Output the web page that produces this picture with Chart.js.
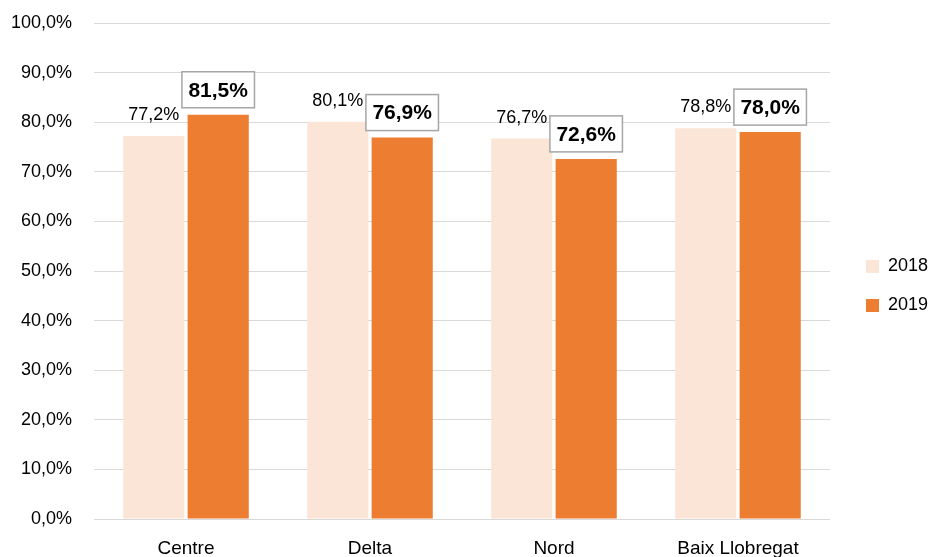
<!DOCTYPE html>
<html>
<head>
<meta charset="utf-8">
<script src="https://cdn.jsdelivr.net/npm/chart.js@4.4.1/dist/chart.umd.min.js"></script>
<style>
  html, body { margin: 0; padding: 0; background: #ffffff; }
  #wrap { width: 930px; height: 557px; }
</style>
</head>
<body>
<div id="wrap"><canvas id="c" width="930" height="557"></canvas></div>
<script>
const categories = ['Centre', 'Delta', 'Nord', 'Baix Llobregat'];
const seriesNames = ['2018', '2019'];
const values2018 = [77.2, 80.1, 76.7, 78.8];
const values2019 = [81.5, 76.9, 72.6, 78.0];
const yMin = 0, yMax = 100, yStep = 10;

const FONT = "'Liberation Sans', Arial, sans-serif";
const fmt = v => v.toFixed(1).replace('.', ',') + '%';

const labelPlugin = {
  id: 'barLabels',
  afterLayout(chart) {
    const lg = chart.legend;
    if (lg) {
      const dx = 866 - (lg.left + lg.options.labels.padding);
      lg.left += dx; lg.right += dx;
      lg.top -= 4; lg.bottom -= 4;
    }
  },
  afterDatasetsDraw(chart) {
    const ctx = chart.ctx;
    ctx.save();
    ctx.textAlign = 'center';
    chart.data.datasets.forEach((ds, di) => {
      const meta = chart.getDatasetMeta(di);
      meta.data.forEach((bar, i) => {
        const txt = fmt(ds.data[i]);
        if (di === 0) {
          ctx.font = "18px " + FONT;
          ctx.fillStyle = '#000000';
          ctx.textBaseline = 'alphabetic';
          ctx.fillText(txt, bar.x, bar.y - 16);
        } else {
          ctx.font = "bold 21px " + FONT;
          const w = ctx.measureText(txt).width;
          const bw = w + 13, bh = 36;
          const bottom = bar.y - 7;
          const left = bar.x - bw / 2;
          ctx.fillStyle = '#ffffff';
          ctx.fillRect(left, bottom - bh, bw, bh);
          ctx.strokeStyle = '#a6a6a6';
          ctx.lineWidth = 1.5;
          ctx.strokeRect(left, bottom - bh, bw, bh);
          ctx.fillStyle = '#000000';
          ctx.textBaseline = 'middle';
          ctx.fillText(txt, bar.x, bottom - bh / 2 + 1);
        }
      });
    });
    ctx.restore();
  }
};

new Chart(document.getElementById('c'), {
  type: 'bar',
  data: {
    labels: categories,
    datasets: [
      { label: seriesNames[0], data: values2018, backgroundColor: '#FBE5D6', borderWidth: 0 },
      { label: seriesNames[1], data: values2019, backgroundColor: '#ED7D31', borderWidth: 0 }
    ]
  },
  options: {
    responsive: false,
    animation: false,
    devicePixelRatio: 1,
    categoryPercentage: 0.70,
    barPercentage: 0.95,
    layout: { padding: { left: 11, top: 23, right: 7, bottom: 0 } },
    plugins: {
      tooltip: { enabled: false },
      legend: {
        position: 'right',
        align: 'center',
        labels: {
          boxWidth: 13,
          boxHeight: 13,
          padding: 21,
          color: '#000000',
          font: { family: FONT, size: 18 }
        }
      }
    },
    scales: {
      x: {
        grid: { display: false, drawTicks: false },
        border: { display: true, color: '#d9d9d9', width: 1 },
        ticks: { color: '#000000', padding: 18, font: { family: FONT, size: 19 } },
        afterFit: s => { s.height = 38; }
      },
      y: {
        min: yMin, max: yMax,
        grid: { color: '#d9d9d9', lineWidth: 1, drawTicks: false },
        border: { display: false },
        ticks: {
          stepSize: yStep,
          padding: 22,
          color: '#000000',
          font: { family: FONT, size: 18 },
          callback: v => fmt(v)
        },
        afterFit: s => { s.width = 83; s.paddingTop = 0; s.paddingBottom = 0; }
      }
    }
  },
  plugins: [labelPlugin]
});
</script>
</body>
</html>
